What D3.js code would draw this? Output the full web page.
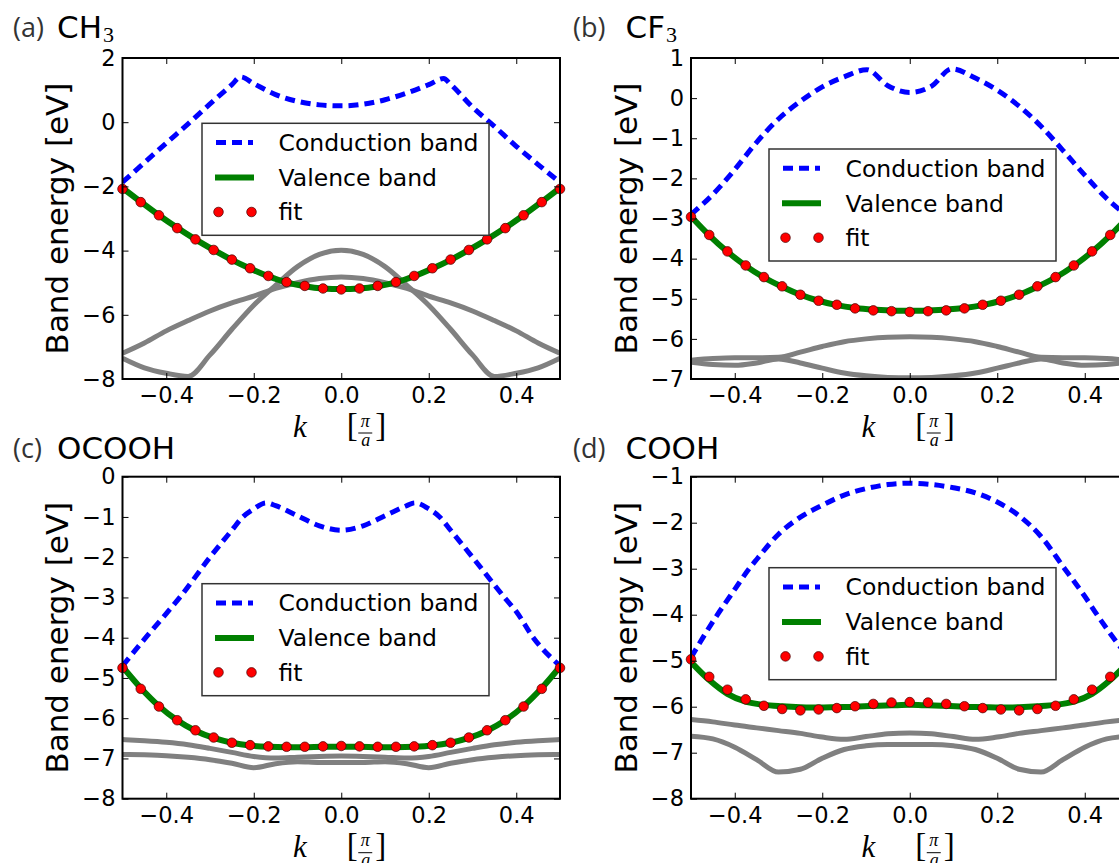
<!DOCTYPE html>
<html><head><meta charset="utf-8">
<script src="https://cdn.jsdelivr.net/npm/d3@7"></script>
<style>body{margin:0;background:#fff}svg{display:block}</style>
</head><body><svg id="c" width="1119" height="863"></svg>
<script>
// ---- data ----
const kFit = [-0.5,-0.4583,-0.4167,-0.375,-0.3333,-0.2917,-0.25,-0.2083,-0.1667,-0.125,-0.0833,-0.0417,0,0.0417,0.0833,0.125,0.1667,0.2083,0.25,0.2917,0.3333,0.375,0.4167,0.4583,0.5];
const kGrid = [-0.5,-0.45,-0.4,-0.35,-0.3,-0.25,-0.2,-0.15,-0.1,-0.05,0,0.05,0.1,0.15,0.2,0.25,0.3,0.35,0.4,0.45,0.5];
const xTicks = [-0.4,-0.2,0,0.2,0.4];
const legendLabels = ["Conduction band","Valence band","fit"];

// (a) CH3
const aYTicks = [-8,-6,-4,-2,0,2];
const aFit = [-2.08,-2.49,-2.90,-3.30,-3.65,-3.98,-4.28,-4.55,-4.79,-4.98,-5.10,-5.18,-5.21,-5.18,-5.10,-4.98,-4.79,-4.55,-4.28,-3.98,-3.65,-3.30,-2.90,-2.49,-2.08];
const aValence = [-2.05,-2.48,-2.90,-3.29,-3.65,-3.98,-4.29,-4.56,-4.80,-4.99,-5.11,-5.18,-5.20,-5.18,-5.11,-4.99,-4.80,-4.56,-4.29,-3.98,-3.65,-3.29,-2.90,-2.48,-2.05];
const aCondK = [-0.5,-0.45,-0.4,-0.35,-0.3,-0.25,-0.23,-0.2,-0.15,-0.1,-0.05,0,0.05,0.1,0.15,0.2,0.234,0.25,0.3,0.35,0.4,0.45,0.5];
const aCond = [-1.87,-1.26,-0.65,-0.05,0.57,1.17,1.41,1.20,0.86,0.65,0.54,0.51,0.56,0.70,0.91,1.17,1.36,1.18,0.47,-0.13,-0.75,-1.32,-1.87];
const aGray1 = [-7.35,-7.65,-7.82,-7.92,-7.25,-6.45,-5.70,-5.08,-4.50,-4.12,-3.99,-4.12,-4.50,-5.08,-5.70,-6.45,-7.25,-7.92,-7.82,-7.65,-7.35];
const aGray2 = [-7.20,-6.88,-6.50,-6.18,-5.88,-5.63,-5.42,-5.18,-5.00,-4.87,-4.82,-4.87,-5.00,-5.18,-5.42,-5.63,-5.88,-6.18,-6.50,-6.88,-7.20];

// (b) CF3
const bYTicks = [-7,-6,-5,-4,-3,-2,-1,0,1];
const bFit = [-2.96,-3.41,-3.82,-4.17,-4.46,-4.69,-4.90,-5.05,-5.15,-5.24,-5.29,-5.31,-5.33,-5.31,-5.29,-5.24,-5.15,-5.05,-4.90,-4.69,-4.46,-4.17,-3.82,-3.41,-2.96];
const bValence = [-2.95,-3.42,-3.83,-4.18,-4.47,-4.70,-4.90,-5.05,-5.16,-5.23,-5.27,-5.29,-5.30,-5.29,-5.27,-5.23,-5.16,-5.05,-4.90,-4.70,-4.47,-4.18,-3.83,-3.42,-2.95];
const bCondK = [-0.5,-0.45,-0.4,-0.35,-0.3,-0.25,-0.2,-0.15,-0.098,-0.05,0,0.05,0.096,0.15,0.2,0.25,0.3,0.35,0.4,0.45,0.5];
const bCond = [-2.90,-2.40,-1.78,-1.10,-0.52,-0.08,0.28,0.53,0.71,0.31,0.14,0.30,0.73,0.50,0.20,-0.20,-0.70,-1.30,-1.92,-2.50,-2.95];
const bGrayA = [-6.53,-6.49,-6.47,-6.47,-6.46,-6.33,-6.19,-6.07,-6.00,-5.96,-5.95,-5.96,-6.00,-6.07,-6.19,-6.33,-6.46,-6.47,-6.47,-6.49,-6.53];
const bGrayB = [-6.58,-6.64,-6.66,-6.60,-6.50,-6.60,-6.73,-6.85,-6.92,-6.96,-6.97,-6.96,-6.92,-6.85,-6.73,-6.60,-6.50,-6.60,-6.66,-6.64,-6.58];

// (c) OCOOH
const cYTicks = [-8,-7,-6,-5,-4,-3,-2,-1,0];
const cFit = [-4.75,-5.27,-5.71,-6.05,-6.30,-6.48,-6.61,-6.67,-6.70,-6.71,-6.71,-6.70,-6.69,-6.70,-6.71,-6.71,-6.70,-6.67,-6.61,-6.48,-6.30,-6.05,-5.71,-5.27,-4.75];
const cValence = [-4.72,-5.25,-5.70,-6.05,-6.31,-6.49,-6.61,-6.68,-6.71,-6.72,-6.72,-6.71,-6.71,-6.71,-6.72,-6.72,-6.71,-6.68,-6.61,-6.49,-6.31,-6.05,-5.70,-5.25,-4.72];
const cCondK = [-0.5,-0.447,-0.4,-0.369,-0.3,-0.25,-0.225,-0.2,-0.172,-0.15,-0.1,-0.05,0,0.05,0.1,0.15,0.168,0.2,0.225,0.25,0.3,0.373,0.4,0.439,0.5];
const cCond = [-4.70,-4.00,-3.40,-3.00,-2.00,-1.33,-1.00,-0.80,-0.65,-0.72,-0.97,-1.22,-1.33,-1.22,-0.97,-0.72,-0.65,-0.80,-1.00,-1.33,-2.00,-3.00,-3.35,-4.00,-4.70];
const cGrayU = [-6.53,-6.56,-6.60,-6.66,-6.75,-6.85,-6.95,-6.99,-6.97,-6.95,-6.94,-6.95,-6.97,-6.99,-6.95,-6.85,-6.75,-6.66,-6.60,-6.56,-6.53];
const cGrayL = [-6.90,-6.91,-6.93,-6.97,-7.03,-7.12,-7.23,-7.13,-7.08,-7.10,-7.10,-7.10,-7.08,-7.13,-7.23,-7.12,-7.03,-6.97,-6.93,-6.91,-6.90];

// (d) COOH
const dYTicks = [-8,-7,-6,-5,-4,-3,-2,-1];
const dFit = [-4.97,-5.35,-5.63,-5.84,-5.98,-6.05,-6.08,-6.06,-6.03,-5.99,-5.94,-5.91,-5.90,-5.91,-5.94,-5.99,-6.03,-6.06,-6.08,-6.05,-5.98,-5.84,-5.63,-5.35,-4.97];
const dValence = [-5.03,-5.42,-5.72,-5.89,-5.96,-5.99,-6.01,-6.02,-6.01,-6.00,-5.98,-5.97,-5.96,-5.97,-5.98,-6.00,-6.01,-6.02,-6.01,-5.99,-5.96,-5.89,-5.72,-5.42,-5.03];
const dCondK = [-0.5,-0.45,-0.4,-0.367,-0.35,-0.3,-0.25,-0.2,-0.15,-0.1,-0.05,0,0.05,0.1,0.15,0.2,0.25,0.3,0.354,0.4,0.428,0.45,0.5];
const dCond = [-4.93,-4.15,-3.45,-3.00,-2.80,-2.25,-1.88,-1.62,-1.40,-1.26,-1.17,-1.14,-1.17,-1.24,-1.35,-1.55,-1.85,-2.30,-3.00,-3.60,-4.00,-4.30,-4.93];
const dGrayU = [-6.28,-6.33,-6.40,-6.46,-6.52,-6.58,-6.66,-6.71,-6.65,-6.59,-6.57,-6.59,-6.65,-6.71,-6.66,-6.58,-6.52,-6.46,-6.40,-6.33,-6.28];
const dGrayL = [-6.64,-6.70,-6.88,-7.15,-7.42,-7.36,-7.12,-6.93,-6.85,-6.82,-6.82,-6.82,-6.85,-6.93,-7.12,-7.36,-7.42,-7.15,-6.88,-6.70,-6.64];

// ---- layout ----
const W = 437.5;
const panels = [
  {tag:"(a)", name:"CH", sub:"3", ox:0,   left:122.5, top:58,    h:321, dom:[-8,2], yt:aYTicks, condK:aCondK, cond:aCond, val:aValence, fit:aFit, gray:[aGray1,aGray2], lg:[79.5,65.3]},
  {tag:"(b)", name:"CF", sub:"3", ox:560, left:691,   top:58,    h:321, dom:[-7,1], yt:bYTicks, condK:bCondK, cond:bCond, val:bValence, fit:bFit, gray:[bGrayA,bGrayB], lg:[78,91]},
  {tag:"(c)", name:"OCOOH", sub:"", ox:0, left:122.5, top:476.7, h:322, dom:[-8,0], yt:cYTicks, condK:cCondK, cond:cCond, val:cValence, fit:cFit, gray:[cGrayU,cGrayL], lg:[79.5,107]},
  {tag:"(d)", name:"COOH", sub:"", ox:560, left:691,  top:476.7, h:322, dom:[-8,-1], yt:dYTicks, condK:dCondK, cond:dCond, val:dValence, fit:dFit, gray:[dGrayU,dGrayL], lg:[78,91]}
];

const svg = d3.select('#c');
svg.append('rect').attr('width',1119).attr('height',863).attr('fill','#fff');
const SANS = "DejaVu Sans";
const SERIF = "Liberation Serif";

panels.forEach((p, pi) => {
  const x = d3.scaleLinear().domain([-0.5,0.5]).range([p.left, p.left+W]);
  const y = d3.scaleLinear().domain(p.dom).range([p.top+p.h, p.top]);
  const g = svg.append('g');
  const cid = 'clip'+pi;
  svg.append('clipPath').attr('id',cid).append('rect')
    .attr('x',p.left).attr('y',p.top).attr('width',W).attr('height',p.h);
  const plot = g.append('g').attr('clip-path',`url(#${cid})`);
  const line = d3.line().curve(d3.curveMonotoneX);

  p.gray.forEach(arr => {
    plot.append('path').attr('d', line(kGrid.map((k,i)=>[x(k), y(arr[i])])))
      .attr('fill','none').attr('stroke','#808080').attr('stroke-width',5);
  });
  plot.append('path').attr('d', line(p.condK.map((k,i)=>[x(k), y(p.cond[i])])))
    .attr('fill','none').attr('stroke','#0000ff').attr('stroke-width',5)
    .attr('stroke-dasharray','10,6');
  plot.append('path').attr('d', line(kFit.map((k,i)=>[x(k), y(p.val[i])])))
    .attr('fill','none').attr('stroke','#008000').attr('stroke-width',6);
  g.append('g').selectAll('circle').data(kFit).join('circle')
    .attr('cx', k => x(k)).attr('cy', (k,i) => y(p.fit[i])).attr('r',4.8)
    .attr('fill','#ff0000').attr('stroke','#400').attr('stroke-width',0.7);

  // axes
  const fmtX = d3.format('.1f'), fmtY = d3.format('d');
  const bx = g.append('g').attr('transform',`translate(0,${p.top+p.h})`)
    .call(d3.axisBottom(x).tickValues(xTicks).tickSize(-6).tickFormat(fmtX));
  bx.selectAll('text').attr('y',24).attr('dy',null);
  const tx = g.append('g').attr('transform',`translate(0,${p.top})`)
    .call(d3.axisTop(x).tickValues(xTicks).tickSize(-6).tickFormat(''));
  const ly = g.append('g').attr('transform',`translate(${p.left},0)`)
    .call(d3.axisLeft(y).tickValues(p.yt).tickSize(-6).tickPadding(7).tickFormat(fmtY));
  const ry = g.append('g').attr('transform',`translate(${p.left+W},0)`)
    .call(d3.axisRight(y).tickValues(p.yt).tickSize(-6).tickFormat(''));
  [bx,tx,ly,ry].forEach(a => {
    a.select('.domain').remove();
    a.attr('font-family',SANS).attr('font-size',22.5);
    a.selectAll('line').attr('stroke','#000').attr('stroke-width',1);
    a.selectAll('text').attr('fill','#000');
  });
  g.append('rect').attr('x',p.left).attr('y',p.top).attr('width',W).attr('height',p.h)
    .attr('fill','none').attr('stroke','#000').attr('stroke-width',2);

  // y label
  const cy = p.top + p.h/2;
  g.append('text').attr('transform',`translate(${p.left-54.5},${cy}) rotate(-90)`)
    .attr('text-anchor','middle').attr('font-family',SANS).attr('font-size',31)
    .text('Band energy [eV]');

  // x label: k  [π/a]
  const cx = p.left + W/2, b = p.top + p.h;
  const xl = g.append('g').attr('transform',`translate(${cx},${b})`).attr('font-family',SERIF);
  xl.append('text').attr('x',-41.5).attr('y',58).attr('text-anchor','middle')
    .attr('font-style','italic').attr('font-size',31).text('k');
  xl.append('text').attr('x',11).attr('y',57).attr('text-anchor','middle').attr('font-size',33).text('[');
  xl.append('text').attr('x',24).attr('y',47.5).attr('text-anchor','middle')
    .attr('font-style','italic').attr('font-size',18).text('π');
  xl.append('line').attr('x1',17).attr('x2',31).attr('y1',54).attr('y2',54).attr('stroke','#000').attr('stroke-width',1);
  xl.append('text').attr('x',24.5).attr('y',67).attr('text-anchor','middle')
    .attr('font-style','italic').attr('font-size',18).text('a');
  xl.append('text').attr('x',39.5).attr('y',57).attr('text-anchor','middle').attr('font-size',33).text(']');

  // title
  const tb = pi < 2 ? 37.5 : 458.5;
  g.append('text').attr('x',p.ox+13).attr('y',tb-1).attr('font-family','Open Sans')
    .attr('font-size',27).attr('fill','#333').text(p.tag);
  const tt = g.append('text').attr('x',p.left-65.5).attr('y',tb).attr('font-family',SANS).attr('font-size',31).attr('fill','#000');
  tt.append('tspan').text(p.name);
  if (p.sub) tt.append('tspan').attr('font-family',SERIF).attr('font-size',22).attr('dy',4).attr('dx',1).text(p.sub);

  // legend
  const lg = g.append('g').attr('transform',`translate(${p.left+p.lg[0]},${p.top+p.lg[1]})`);
  lg.append('rect').attr('width',287).attr('height',112).attr('fill','#fff')
    .attr('stroke','#333').attr('stroke-width',1.5);
  const rows = [19.2, 54.3, 88.7];
  lg.append('line').attr('x1',14).attr('x2',51).attr('y1',rows[0]).attr('y2',rows[0])
    .attr('stroke','#0000ff').attr('stroke-width',5).attr('stroke-dasharray','10,6');
  lg.append('line').attr('x1',13).attr('x2',52).attr('y1',rows[1]).attr('y2',rows[1])
    .attr('stroke','#008000').attr('stroke-width',6);
  [16.5, 49.5].forEach(cxp => lg.append('circle').attr('cx',cxp).attr('cy',rows[2]).attr('r',4.8)
    .attr('fill','#ff0000').attr('stroke','#400').attr('stroke-width',0.7));
  legendLabels.forEach((t,i) => lg.append('text').attr('x',76.5).attr('y',rows[i]+8.5)
    .attr('font-family',SANS).attr('font-size',23.5).attr('fill','#000').text(t));
});
</script>
</body></html>
